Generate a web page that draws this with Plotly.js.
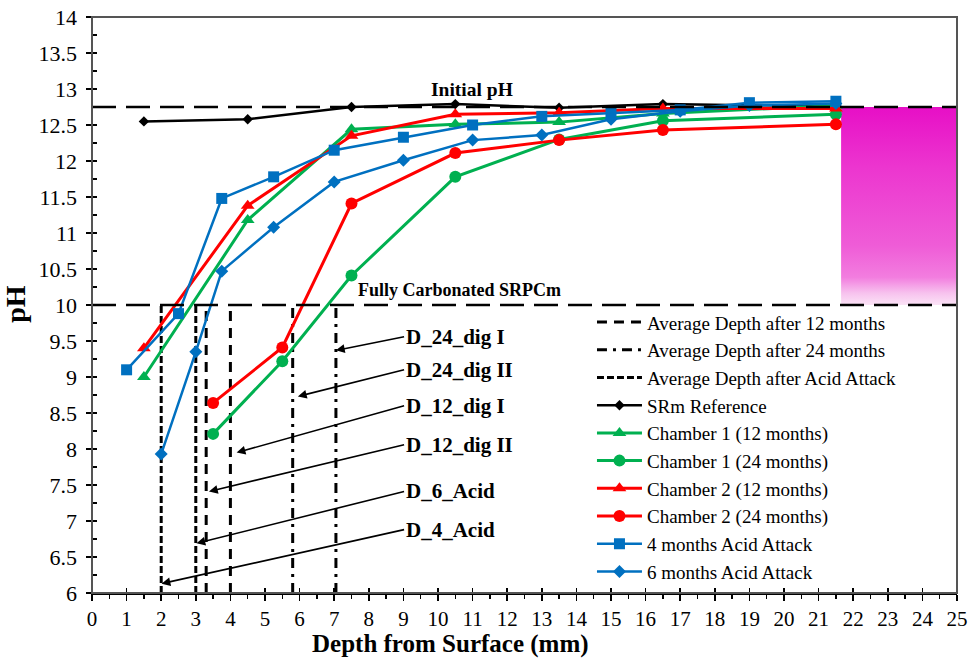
<!DOCTYPE html>
<html>
<head>
<meta charset="utf-8">
<script src="https://cdn.plot.ly/plotly-3.0.1.min.js"></script>
<style>html,body{margin:0;padding:0;background:#fff;}#chart{width:969px;height:658px;}</style>
</head>
<body>
<div id="chart"></div>
<script>
// ---- data ----
const srmX = [1.5, 4.5, 7.5, 10.5, 13.5, 16.5, 21.5];
const srmY = [12.55, 12.58, 12.75, 12.79, 12.74, 12.79, 12.76];
const ch1m12X = [1.5, 4.5, 7.5, 10.5, 13.5, 16.5, 21.5];
const ch1m12Y = [9.0, 11.18, 12.44, 12.51, 12.54, 12.66, 12.77];
const ch1m24X = [3.5, 5.5, 7.5, 10.5, 13.5, 16.5, 21.5];
const ch1m24Y = [8.21, 9.22, 10.41, 11.78, 12.30, 12.56, 12.65];
const ch2m12X = [1.5, 4.5, 7.5, 10.5, 13.5, 16.5, 21.5];
const ch2m12Y = [9.40, 11.38, 12.35, 12.65, 12.67, 12.73, 12.73];
const ch2m24X = [3.5, 5.5, 7.5, 10.5, 13.5, 16.5, 21.5];
const ch2m24Y = [8.64, 9.41, 11.41, 12.11, 12.29, 12.43, 12.51];
const acid4X = [1, 2.5, 3.75, 5.25, 7, 9, 11, 13, 15, 17, 19, 21.5];
const acid4Y = [9.10, 9.88, 11.48, 11.78, 12.15, 12.33, 12.50, 12.62, 12.67, 12.71, 12.81, 12.83];
const acid6X = [2, 3, 3.75, 5.25, 7, 9, 11, 13, 15, 17, 19, 21.5];
const acid6Y = [7.93, 9.35, 10.47, 11.08, 11.71, 12.01, 12.29, 12.36, 12.58, 12.69, 12.77, 12.80];

const depth12 = [3.3, 4.0];
const depth24 = [5.8, 7.05];
const depthAcid = [2.0, 3.0];

const initialPH = 12.75;
const carbonatedPH = 10;
const xRange = [0, 25];
const yRange = [6, 14];
const zoneX = [21.65, 25];

const labelNames = ["D_24_dig I", "D_24_dig II", "D_12_dig I", "D_12_dig II", "D_6_Acid", "D_4_Acid"];
const labelTargetX = [7.05, 5.95, 4.18, 3.38, 3.02, 2.01];
const labelTargetY = [9.37, 8.73, 7.95, 7.41, 6.69, 6.13];
const labelTailY = [9.56, 9.10, 8.60, 8.06, 7.41, 6.88];
const labelTailX = 9.02;

// ---- styles ----
const GREEN = '#00b050', RED = '#ff0000', BLUE = '#0070c0';
const FONT = 'Liberation Serif';

const traces = [];
// gradient zone
traces.push({
  x: [zoneX[0], zoneX[1], zoneX[1], zoneX[0], zoneX[0]],
  y: [carbonatedPH, carbonatedPH, initialPH, initialPH, carbonatedPH],
  mode: 'lines', fill: 'toself', line: {width: 0, color: 'rgba(0,0,0,0)'},
  fillgradient: {type: 'vertical', colorscale: [[0, '#fbe3f6'], [0.06, '#f7c2ee'], [0.14, '#f27ddf'], [0.3, '#ef5cd7'], [0.7, '#ec35cf'], [1, '#e70fc6']]},
  showlegend: false, hoverinfo: 'skip'
});

function vlines(xs, name, dash) {
  xs.forEach((d, i) => {
    traces.push({
      x: [d, d], y: [yRange[0], carbonatedPH], mode: 'lines', name: name,
      legendgroup: name, showlegend: i === 0,
      line: {color: '#000', width: 3, dash: dash}
    });
  });
}
vlines(depth12, 'Average Depth after 12 months', '10px,7px');
vlines(depth24, 'Average Depth after 24 months', '10px,6px,3px,6px');
vlines(depthAcid, 'Average Depth after Acid Attack', '7px,3px');

function series(x, y, name, color, symbol, size, width) {
  traces.push({x: x, y: y, name: name, mode: 'lines+markers',
    line: {color: color, width: width},
    marker: {color: color, symbol: symbol, size: size}});
}
series(srmX, srmY, 'SRm Reference', '#000', 'diamond', 8, 2.5);
series(ch1m12X, ch1m12Y, 'Chamber 1 (12 months)', GREEN, 'triangle-up', 12, 3);
series(ch1m24X, ch1m24Y, 'Chamber 1 (24 months)', GREEN, 'circle', 12, 3);
series(ch2m12X, ch2m12Y, 'Chamber 2 (12 months)', RED, 'triangle-up', 12, 3);
series(ch2m24X, ch2m24Y, 'Chamber 2 (24 months)', RED, 'circle', 12, 3);
series(acid4X, acid4Y, '4 months Acid Attack', BLUE, 'square', 11, 2.5);
series(acid6X, acid6Y, '6 months Acid Attack', BLUE, 'diamond', 10, 2.5);

const annotations = [];
labelNames.forEach((t, i) => {
  annotations.push({
    x: labelTargetX[i], y: labelTargetY[i], xref: 'x', yref: 'y',
    ax: labelTailX, ay: labelTailY[i], axref: 'x', ayref: 'y',
    text: '<b>' + t + '</b>', showarrow: true, arrowhead: 2, arrowsize: 1.1, arrowwidth: 1.6,
    arrowcolor: '#000', xanchor: 'left', yanchor: 'middle',
    font: {family: FONT, size: 21, color: '#000'}
  });
});
annotations.push({x: 10.97, y: 13.0, xref: 'x', yref: 'y', text: '<b>Initial pH</b>', showarrow: false,
  font: {family: FONT, size: 19.5, color: '#000'}});
annotations.push({x: 10.62, y: 10.21, xref: 'x', yref: 'y', text: '<b>Fully Carbonated SRPCm</b>', showarrow: false,
  font: {family: FONT, size: 18, color: '#000'}});
annotations.push({x: 0.414, y: -0.088, xref: 'paper', yref: 'paper', text: '<b>Depth from Surface (mm)</b>', showarrow: false,
  xanchor: 'center', yanchor: 'middle', font: {family: FONT, size: 25, color: '#000'}});
annotations.push({x: -0.088, y: 0.502, xref: 'paper', yref: 'paper', text: '<b>pH</b>', showarrow: false,
  xanchor: 'center', yanchor: 'middle', textangle: -90, font: {family: FONT, size: 28, color: '#000'}});

const shapes = [
  {type: 'line', xref: 'paper', x0: 0, x1: 1, yref: 'y', y0: initialPH, y1: initialPH,
    line: {color: '#000', width: 2.5, dash: '24px,10px'}},
  {type: 'line', xref: 'paper', x0: 0, x1: 1, yref: 'y', y0: carbonatedPH, y1: carbonatedPH,
    line: {color: '#000', width: 2.5, dash: '24px,10px'}},
  {type: 'rect', xref: 'paper', yref: 'paper', x0: 0, x1: 1, y0: 0, y1: 1,
    line: {color: '#555', width: 2}, layer: 'above'}
];

const layout = {
  width: 969, height: 658,
  margin: {l: 92, r: 12, t: 17, b: 65},
  paper_bgcolor: '#fff', plot_bgcolor: '#fff',
  font: {family: FONT, size: 21, color: '#000'},
  showlegend: true,
  legend: {x: 0.578, y: 0.503, xanchor: 'left', yanchor: 'top', bgcolor: 'rgba(0,0,0,0)',
    font: {family: FONT, size: 19, color: '#000'}, itemwidth: 45, tracegroupgap: 0},
  xaxis: {range: xRange, dtick: 1, tick0: 0, showgrid: false, zeroline: false,
    showline: true, linecolor: '#000', linewidth: 1.5,
    ticks: 'outside', ticklen: 6, tickcolor: '#000', tickwidth: 1.5, ticklabelstandoff: 0,
    minor: {dtick: 0.5, ticks: 'outside', ticklen: 4, tickcolor: '#000', showgrid: false},
    tickfont: {family: FONT, size: 21, color: '#000'}},
  xaxis2: {range: xRange, overlaying: 'x', anchor: 'y', side: 'bottom', dtick: 1, tick0: 0,
    showgrid: false, zeroline: false, showline: false, showticklabels: false,
    ticks: 'inside', ticklen: 5, tickcolor: '#000', tickwidth: 1.5},
  yaxis: {range: yRange, dtick: 0.5, tick0: 6, showgrid: false, zeroline: false,
    showline: true, linecolor: '#000', linewidth: 1.5,
    ticks: 'outside', ticklen: 5, tickcolor: '#000', tickwidth: 1.5, ticklabelstandoff: 4,
    minor: {dtick: 0.25, ticks: 'inside', ticklen: 5, tickcolor: '#000', showgrid: false},
    tickfont: {family: FONT, size: 22, color: '#000'}},
  yaxis2: {range: yRange, overlaying: 'y', anchor: 'x', side: 'left', dtick: 0.5, tick0: 6,
    showgrid: false, zeroline: false, showline: false, showticklabels: false,
    ticks: 'inside', ticklen: 5, tickcolor: '#000', tickwidth: 1.5},
  annotations: annotations,
  shapes: shapes
};

// invisible point so the overlay tick axes are drawn
traces.push({x: [xRange[0]], y: [yRange[0]], xaxis: 'x2', yaxis: 'y2', mode: 'markers',
  marker: {opacity: 0}, showlegend: false, hoverinfo: 'skip'});

Plotly.newPlot('chart', traces, layout, {staticPlot: true});
</script>
</body>
</html>
